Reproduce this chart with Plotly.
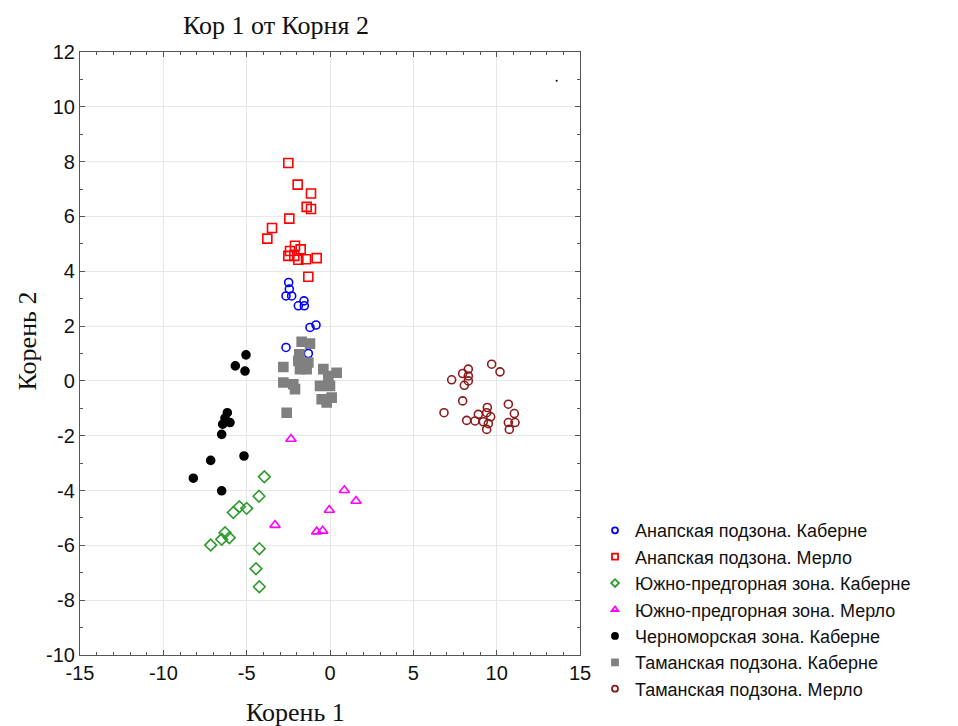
import plotly.graph_objects as go

# Canonical scores (Root 1, Root 2) per group
anapa_cab_x = [-2.48, -2.44, -2.64, -2.3, -1.9, -1.56, -1.54, -1.2, -0.84, -2.64, -1.3]
anapa_cab_y = [3.59, 3.35, 3.1, 3.1, 2.74, 2.92, 2.74, 1.95, 2.04, 1.22, 1.0]

anapa_mer_x = [-2.5, -1.94, -1.14, -1.4, -1.14, -2.44, -3.48, -3.76, -2.1, -1.76, -2.4,
               -2.5, -2.14, -1.9, -1.44, -0.8, -1.3]
anapa_mer_y = [7.95, 7.16, 6.84, 6.35, 6.27, 5.92, 5.58, 5.19, 4.93, 4.8, 4.74,
               4.56, 4.56, 4.42, 4.44, 4.48, 3.8]

south_cab_x = [-3.94, -4.26, -5.0, -5.44, -5.8, -6.3, -6.04, -6.5, -7.16, -4.24, -4.44, -4.24]
south_cab_y = [-3.5, -4.21, -4.65, -4.59, -4.8, -5.54, -5.72, -5.78, -5.99, -6.12, -6.85, -7.51]

south_mer_x = [-2.34, -3.3, 0.86, 1.56, -0.04, -0.8, -0.44]
south_mer_y = [-2.12, -5.26, -3.99, -4.38, -4.71, -5.5, -5.47]

black_sea_cab_x = [-5.04, -5.68, -5.1, -6.16, -6.3, -6.0, -6.44, -6.5, -5.16, -7.16, -8.2, -6.5]
black_sea_cab_y = [0.95, 0.55, 0.36, -1.16, -1.36, -1.52, -1.58, -1.95, -2.74, -2.9, -3.55, -4.01]

taman_cab_x = [-1.7, -1.2, -1.84, -1.9, -1.3, -1.8, -1.4, -2.8, -0.4, 0.4, -0.1, -2.8,
               -2.2, -2.1, -0.6, 0.0, -0.5, 0.1, -0.2, -2.6]
taman_cab_y = [1.43, 1.36, 0.97, 0.73, 0.67, 0.43, 0.43, 0.51, 0.43, 0.3, 0.18, -0.06,
               -0.12, -0.3, -0.18, -0.18, -0.67, -0.61, -0.79, -1.16]

taman_mer_x = [9.7, 10.2, 8.3, 7.96, 8.3, 7.3, 8.3, 8.06, 7.96, 6.84, 10.7, 9.44, 8.9,
               9.64, 9.4, 8.2, 8.7, 9.2, 9.5, 11.06, 11.1, 10.7, 9.4, 10.76]
taman_mer_y = [0.61, 0.33, 0.43, 0.27, 0.18, 0.04, 0.0, -0.16, -0.73, -1.16, -0.85, -0.97,
               -1.22, -1.31, -1.16, -1.44, -1.46, -1.49, -1.56, -1.19, -1.52, -1.52,
               -1.77, -1.77]

stray_x = [13.6]
stray_y = [10.95]

x_ticks = [-15, -10, -5, 0, 5, 10, 15]
x_tick_text = ["-15", "-10", "-5", "0", "5", "10", "15"]
y_ticks = [-10, -8, -6, -4, -2, 0, 2, 4, 6, 8, 10, 12]
y_tick_text = ["-10", "-8", "-6", "-4", "-2", "0", "2", "4", "6", "8", "10", "12"]

groups = [
    ("Анапская подзона. Каберне", anapa_cab_x, anapa_cab_y, "circle-open", "#0000ff", 8),
    ("Анапская подзона. Мерло", anapa_mer_x, anapa_mer_y, "square-open", "#ff0000", 9),
    ("Южно-предгорная зона. Каберне", south_cab_x, south_cab_y, "diamond-open", "#2e9a2e", 9),
    ("Южно-предгорная зона. Мерло", south_mer_x, south_mer_y, "triangle-up-open", "#ff00ff", 9),
    ("Черноморская зона. Каберне", black_sea_cab_x, black_sea_cab_y, "circle", "#000000", 8),
    ("Таманская подзона. Каберне", taman_cab_x, taman_cab_y, "square", "#808080", 9),
    ("Таманская подзона. Мерло", taman_mer_x, taman_mer_y, "circle-open", "#8b1a1a", 8),
]

fig = go.Figure()
for name, xs, ys, sym, col, sz in groups:
    # the plotted points
    fig.add_trace(go.Scatter(
        x=xs, y=ys, mode="markers", name=name, legendgroup=name, showlegend=False,
        marker=dict(symbol=sym, size=sz, color=col, line=dict(width=1.6, color=col)),
    ))
    # compact legend key for the same group
    fig.add_trace(go.Scatter(
        x=[None], y=[None], mode="markers", name=name, legendgroup=name,
        marker=dict(symbol=sym, size=6, color=col, line=dict(width=1.8, color=col)),
    ))

fig.add_trace(go.Scatter(
    x=stray_x, y=stray_y, mode="markers", showlegend=False,
    marker=dict(size=2, color="#000000"),
))

axis_common = dict(
    showline=True, linecolor="#555555", linewidth=1.2, mirror="ticks",
    ticks="inside", ticklen=5, tickcolor="#555555",
    showgrid=True, gridcolor="#e6e6e6", gridwidth=1,
    zeroline=False,
    tickfont=dict(family="Liberation Sans", size=20, color="#111111"),
)

fig.update_xaxes(
    range=[-15, 15], tickvals=x_ticks, ticktext=x_tick_text, **axis_common,
    minor=dict(dtick=1, ticks="inside", ticklen=3, tickcolor="#555555", showgrid=False),
)
fig.update_yaxes(
    range=[-10, 12], tickvals=y_ticks, ticktext=y_tick_text, **axis_common,
    minor=dict(dtick=1, ticks="inside", ticklen=3, tickcolor="#555555", showgrid=False),
)

serif = dict(family="Liberation Serif", size=26, color="#111111")

fig.update_layout(
    width=958, height=726,
    margin=dict(l=80, r=378, t=52, b=71, autoexpand=False),
    paper_bgcolor="white", plot_bgcolor="white",
    showlegend=True,
    legend=dict(
        x=1.03, y=0.237, xanchor="left", yanchor="top",
        font=dict(family="Liberation Sans", size=18, color="#111111"),
        tracegroupgap=0, bgcolor="rgba(0,0,0,0)", itemwidth=30,
    ),
    annotations=[
        dict(text="Кор 1 от Корня 2", xref="paper", yref="paper", x=0.392, y=1.0,
             yshift=27, xanchor="center", yanchor="middle", showarrow=False, font=serif),
        dict(text="Корень 1", xref="paper", yref="paper", x=0.43, y=0,
             yshift=-57, xanchor="center", yanchor="middle", showarrow=False, font=serif),
        dict(text="Корень 2", xref="paper", yref="paper", x=0, y=0.52,
             xshift=-53, xanchor="center", yanchor="middle", showarrow=False,
             textangle=-90, font=serif),
    ],
)

fig.write_html("out.html")
